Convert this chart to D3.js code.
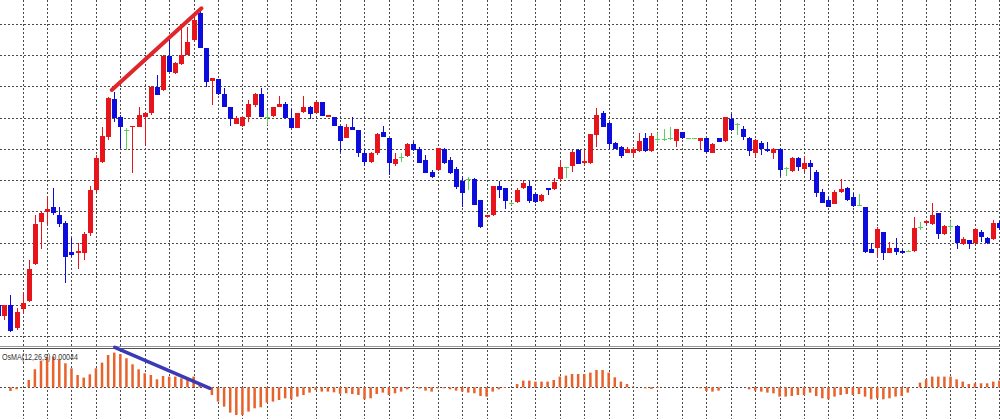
<!DOCTYPE html>
<html><head><meta charset="utf-8">
<script src="https://cdn.jsdelivr.net/npm/d3@7/dist/d3.min.js"></script>
<style>body{margin:0;background:#fff;overflow:hidden}svg{display:block}</style>
</head><body>
<svg id="c" width="1000" height="419"></svg>
<script>
// Bar indices run from firstIndex (-1) upward; prices are in chart units (up = higher)
const firstIndex = -1;
const openP = [
 45,34,45,22,41,49,86,128,138,143,
 135,127,98,97,97,117,160,188,213,251,
 233,220,223,223,233,237,263,260,294,277,
 286,295,310,337,302,269,271,256,243,226,
 224,233,245,256,233,234,243,246,232,222,
 238,243,237,248,233,233,224,212,223,220,
 197,188,197,218,212,186,193,194,206,201,
 190,178,180,201,190,181,169,171,171,150,
 133,135,164,162,147,148,162,164,156,149,
 162,161,171,183,184,200,187,187,215,237,
 227,207,203,197,197,199,212,199,211,211,
 212,209,218,212,212,209,212,197,212,209,
 231,226,221,212,197,207,201,197,201,182,
 179,192,181,187,178,158,150,146,158,162,
 153,145,143,101,102,118,97,102,99,99,
 99,123,127,126,137,116,124,124,106,110,
 107,118,112,111,127];
const highP = [
 46,45,55,42,57,90,135,138,153,162,
 143,129,112,107,118,164,195,223,253,258,
 235,222,224,243,238,264,275,295,314,288,
 323,323,335,342,302,272,271,262,243,234,
 234,250,257,262,240,243,254,248,241,237,
 254,244,249,248,235,233,224,226,233,220,
 200,198,217,224,212,197,197,207,208,203,
 195,180,202,202,193,183,174,173,172,150,
 135,164,169,162,148,162,170,169,157,156,
 162,172,189,183,200,201,200,216,242,239,
 228,208,204,203,203,217,217,217,217,221,
 223,221,218,212,212,212,212,207,212,233,
 236,227,224,213,211,209,208,202,202,183,
 193,193,194,190,180,161,154,160,171,163,
 157,156,143,107,123,118,108,112,100,100,
 133,128,130,147,137,125,129,125,113,110,
 122,120,113,130,129];
const lowP = [
 32,30,18,20,37,48,85,101,125,135,
 123,67,93,81,90,114,158,187,210,228,
 202,200,177,223,205,235,255,259,278,276,
 285,295,308,302,263,245,255,243,224,226,
 223,228,243,233,225,233,243,231,222,222,
 237,231,236,234,233,224,198,212,220,193,
 184,187,195,213,175,184,188,193,199,187,
 177,172,179,186,176,161,143,160,145,122,
 132,134,152,141,145,147,161,147,147,148,
 155,160,169,172,178,186,185,186,203,223,
 201,201,192,197,193,198,198,198,207,209,
 210,203,211,212,212,200,197,197,208,208,
 219,215,210,194,193,195,198,191,174,174,
 178,179,178,170,153,147,143,146,157,149,
 143,144,97,97,93,90,97,95,96,98,
 98,120,126,125,111,115,119,101,105,101,
 105,108,106,110,120];
const closeP = [
 34,45,19,38,47,81,126,137,141,137,
 126,93,95,99,116,160,192,214,252,232,
 223,220,224,235,237,263,255,294,278,287,
 295,308,330,302,268,272,256,243,231,232,
 233,246,256,233,233,243,246,232,222,237,
 243,236,248,234,235,224,209,223,220,197,
 188,197,216,213,187,191,193,206,200,187,
 177,173,202,187,177,163,157,171,145,123,
 135,164,160,149,147,160,167,149,148,155,
 160,168,183,183,198,186,189,216,235,223,
 206,201,194,201,201,209,199,214,211,211,
 212,221,212,212,212,212,198,206,208,233,
 220,226,213,199,210,201,199,201,180,182,
 192,183,187,183,157,147,143,158,161,150,
 144,145,98,97,121,97,102,98,97,99,
 122,123,129,135,116,124,124,107,111,106,
 121,113,107,127,122];
// OsMA histogram (chart units)
const osma = [
 -0.5,0,-3.7,-2,0.3,7.3,18,26.7,30,30.7,
 28,24,19,12.3,9.7,13,19,24.7,32.3,34.7,
 33.3,29,23,18,14,12.3,8,11.3,10.7,10.7,
 9,9,10.7,4,0.5,-7.7,-14.3,-19.3,-25.3,-27.7,
 -27.7,-24.3,-21,-20,-15.3,-14.3,-12.7,-11,-12,-9.3,
 -7.7,-5.3,-2.7,-4.3,-4.3,-5,-6.5,-6,-6.7,-7.7,
 -12,-11,-6.7,-5.3,-7.7,-6,-4.3,-2,-0.7,-1.3,
 -3.3,-4.3,-1,-1,-2,-3.3,-4.3,-5.3,-6,-8.7,
 -9.3,-4.3,-2,-0.7,0,3.3,6.7,6.7,5.7,5.7,
 5.7,7.3,10.7,11.7,13.3,13.3,13.3,14.7,17.3,17.3,
 14.7,10,5.7,3.3,0.7,0,-1,-1.7,-0.7,0,
 0,0,0.3,0.5,0.3,-1,-3.7,-4.3,-3.3,0,
 0,0,0,-2,-3.3,-4.3,-5.3,-6,-9.3,-9.3,
 -8.7,-7.7,-7.7,-5.3,-8.7,-11,-12,-9.3,-7.7,-6.7,
 -7.7,-6.7,-9.3,-12,-11,-12,-11,-9.3,-8.7,-5.3,
 0,4.7,8,10.7,10.7,10.7,10.7,8,5.7,3.3,
 4,4,4,5.7,6.7];
const priceGrid = [14,45,76,107,139,170,201,232,264,295,326];
const gridEvery = 4, gridStart = 3;
const priceTrend = [{i:17.6, p:260}, {i:32.3, p:341.7}];
const osmaTrend = [{i:18.1, v:40}, {i:33.7, v:-1}];
const osmaLabel = "OsMA(12,26,9) 0.00044";

const W = 1000, H = 419, mainBottom = 346, oscTop = 349;
const colUp = "#e8141c", colDown = "#0c0cdc", colDoji = "#5ccf5c", colOsc = "#e8622c";
const gridCol = "#4a4a4a";

const svg = d3.select("#c");
const lastIndex = firstIndex + openP.length - 1;
const x = d3.scaleLinear().domain([-1, 163]).range([-1.8, 999.3]);
const y = d3.scaleLinear().domain([0, 350]).range([350, 0]);
const yo = d3.scaleLinear().domain([-31.7, 38.3]).range([419, 349]);

const bars = openP.map((o, k) => ({i: firstIndex + k, o, h: highP[k], l: lowP[k], c: closeP[k], v: osma[k]}));

svg.append("rect").attr("width", W).attr("height", H).attr("fill", "#fff");

const defs = svg.append("defs");
defs.append("clipPath").attr("id", "cm").append("rect").attr("x", 0).attr("y", 0).attr("width", W).attr("height", mainBottom);
defs.append("clipPath").attr("id", "co").append("rect").attr("x", 0).attr("y", oscTop + 1).attr("width", W).attr("height", H - oscTop);

// grid
const g = svg.append("g").attr("shape-rendering", "crispEdges");
const vIdx = d3.range(gridStart, lastIndex + 1, gridEvery);
g.selectAll("line.vm").data(vIdx).join("line")
  .attr("x1", d => Math.round(x(d)) + 0.5).attr("x2", d => Math.round(x(d)) + 0.5)
  .attr("y1", 0).attr("y2", mainBottom)
  .attr("stroke", gridCol).attr("stroke-dasharray", "2,2");
g.selectAll("line.vo").data(vIdx).join("line")
  .attr("x1", d => Math.round(x(d)) + 0.5).attr("x2", d => Math.round(x(d)) + 0.5)
  .attr("y1", oscTop + 1).attr("y2", H)
  .attr("stroke", gridCol).attr("stroke-dasharray", "2,2");
g.selectAll("line.h").data(priceGrid).join("line")
  .attr("x1", 0).attr("x2", W)
  .attr("y1", d => Math.round(y(d)) + 0.5).attr("y2", d => Math.round(y(d)) + 0.5)
  .attr("stroke", gridCol).attr("stroke-dasharray", "2,2");

// candles
const cg = svg.append("g").attr("clip-path", "url(#cm)").attr("shape-rendering", "crispEdges");
const colorOf = d => d.c > d.o ? colUp : (d.c < d.o ? colDown : colDoji);
cg.selectAll("rect.w").data(bars).join("rect")
  .attr("x", d => Math.round(x(d.i)))
  .attr("width", 1)
  .attr("y", d => y(d.h))
  .attr("height", d => Math.max(1, y(d.l) - y(d.h)))
  .attr("fill", colorOf);
cg.selectAll("rect.b").data(bars).join("rect")
  .attr("x", d => Math.round(x(d.i)) - 2)
  .attr("width", 5)
  .attr("y", d => y(Math.max(d.o, d.c)))
  .attr("height", d => Math.max(1, Math.abs(y(d.o) - y(d.c))))
  .attr("fill", colorOf);

// price trend line
svg.append("line")
  .attr("x1", x(priceTrend[0].i)).attr("y1", y(priceTrend[0].p))
  .attr("x2", x(priceTrend[1].i)).attr("y2", y(priceTrend[1].p))
  .attr("stroke", "#e0262a").attr("stroke-width", 4).attr("stroke-linecap", "round");

// separator
svg.append("line").attr("x1", 0).attr("x2", W).attr("y1", 346.5).attr("y2", 346.5).attr("stroke", "#9a9a9a").attr("shape-rendering", "crispEdges");
svg.append("line").attr("x1", 0).attr("x2", W).attr("y1", 348.5).attr("y2", 348.5).attr("stroke", "#505050").attr("shape-rendering", "crispEdges");

// osma zero line
svg.append("line").attr("x1", 0).attr("x2", W)
  .attr("y1", Math.round(yo(0)) + 0.5).attr("y2", Math.round(yo(0)) + 0.5)
  .attr("stroke", gridCol).attr("stroke-dasharray", "2,2").attr("shape-rendering", "crispEdges");

// osma histogram
const og = svg.append("g").attr("clip-path", "url(#co)");
og.selectAll("rect").data(bars.filter(d => Math.abs(d.v) >= 0.6)).join("rect")
  .attr("x", d => x(d.i) - 1.2)
  .attr("width", 2.5)
  .attr("y", d => Math.min(yo(0), yo(d.v)))
  .attr("height", d => Math.abs(yo(d.v) - yo(0)))
  .attr("fill", colOsc);

// osma trend line
svg.append("line")
  .attr("x1", x(osmaTrend[0].i)).attr("y1", yo(osmaTrend[0].v))
  .attr("x2", x(osmaTrend[1].i)).attr("y2", yo(osmaTrend[1].v))
  .attr("stroke", "#3a3ab6").attr("stroke-width", 3.5).attr("stroke-linecap", "round");

// label
svg.append("text").attr("x", 2).attr("y", 359.5)
  .attr("font-family", "'Liberation Sans', Arial, sans-serif").attr("font-size", 9.5)
  .attr("fill", "#333").attr("textLength", 76).attr("lengthAdjust", "spacingAndGlyphs")
  .text(osmaLabel);
</script>
</body></html>
